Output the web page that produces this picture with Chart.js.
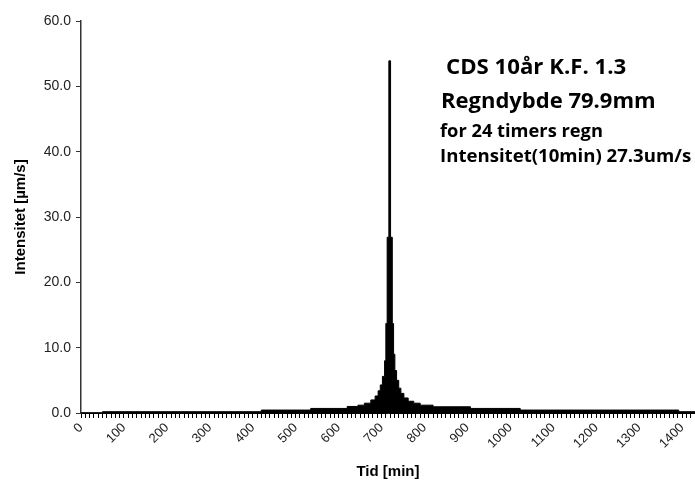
<!DOCTYPE html>
<html>
<head>
<meta charset="utf-8">
<script src="https://cdn.jsdelivr.net/npm/chart.js@4.4.1/dist/chart.umd.min.js"></script>
<style>
    html, body { margin: 0; padding: 0; background: #fff; }
    #wrap { position: relative; width: 695px; height: 483px; overflow: hidden; }
    .note { position: absolute; font-family: "Open Sans", Lato, sans-serif; font-weight: bold; color: #000; white-space: nowrap; line-height: 1; }
</style>
</head>
<body>
<div id="wrap">
    <canvas id="chart" width="695" height="483"></canvas>
    <div class="note" style="left:446px; top:55px; font-size:22.2px;">CDS 10år K.F. 1.3</div>
    <div class="note" style="left:441px; top:88px; font-size:22px;">Regndybde 79.9mm</div>
    <div class="note" style="left:440px; top:121px; font-size:18.3px;">for 24 timers regn</div>
    <div class="note" style="left:440px; top:146px; font-size:18.6px;">Intensitet(10min) 27.3um/s</div>
</div>
<script>
// step start times [min] and the intensity [µm/s] that holds from that time on
const stepTimes = [0, 50, 420, 535, 620, 645, 660, 675, 685, 692, 697, 702, 707, 710, 713, 717, 721, 725, 728, 731, 735, 740, 745, 752, 762, 775, 790, 820, 907, 1023, 1392, 1440];
const stepValues = [0.05, 0.2, 0.45, 0.7, 1.0, 1.2, 1.5, 2.0, 2.6, 3.4, 4.3, 5.6, 8.0, 13.7, 26.9, 53.9, 26.9, 13.7, 9.0, 6.5, 5.0, 3.8, 3.0, 2.3, 1.8, 1.5, 1.2, 0.95, 0.7, 0.45, 0.2, 0.2];

const yTicks = [0, 10, 20, 30, 40, 50, 60];

const ctx = document.getElementById('chart');

new Chart(ctx, {
    type: 'line',
    data: {
        datasets: [{
            data: stepTimes.map((t, i) => ({ x: t, y: stepValues[i] })),
            stepped: 'before',
            fill: 'origin',
            backgroundColor: '#000',
            borderColor: '#000',
            borderWidth: 1,
            pointRadius: 0
        }]
    },
    options: {
        responsive: false,
        animation: false,
        layout: { padding: { top: 21, right: 0, left: 0, bottom: 0 } },
        plugins: {
            legend: { display: false },
            tooltip: { enabled: false }
        },
        scales: {
            x: {
                type: 'linear',
                min: 0,
                max: 1430,
                afterFit: (scale) => {
                    scale.height = 70;
                    scale.paddingRight = 0; // let the axis run to the right edge
                    scale.paddingLeft = 0;
                },
                border: { display: true, color: '#000', width: 1 },
                grid: { drawOnChartArea: false, drawTicks: true, tickLength: 5, color: '#000' },
                ticks: {
                    stepSize: 10,
                    maxTicksLimit: 200,
                    autoSkip: false,
                    maxRotation: 45,
                    minRotation: 45,
                    padding: 2,
                    color: '#222',
                    font: { family: '"Liberation Sans", Arial, sans-serif', size: 13 },
                    callback: (value) => (value % 100 === 0 ? String(value) : '')
                },
                title: {
                    display: true,
                    text: 'Tid [min]',
                    color: '#000',
                    padding: { top: 0, bottom: 2 },
                    font: { family: '"Liberation Sans", Arial, sans-serif', size: 15, weight: 'bold' }
                }
            },
            y: {
                min: 0,
                max: 60,
                afterFit: (scale) => { scale.width = 81; },
                afterBuildTicks: (scale) => { scale.ticks = yTicks.map(v => ({ value: v })); },
                border: { display: true, color: '#333', width: 1.5 },
                grid: { drawOnChartArea: false, drawTicks: true, tickLength: 5, color: '#333' },
                ticks: {
                    padding: 5,
                    color: '#222',
                    font: { family: '"Liberation Sans", Arial, sans-serif', size: 14 },
                    callback: (value) => value.toFixed(1)
                },
                title: {
                    display: true,
                    text: 'Intensitet [µm/s]',
                    color: '#000',
                    padding: { top: 12, bottom: 0 },
                    font: { family: '"Liberation Sans", Arial, sans-serif', size: 15, weight: 'bold' }
                }
            }
        }
    }
});
</script>
</body>
</html>
